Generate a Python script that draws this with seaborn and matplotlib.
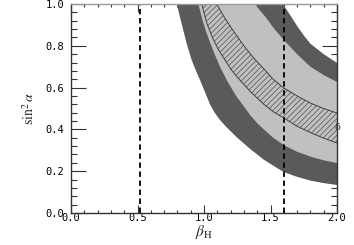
import matplotlib
matplotlib.use("Agg")
import matplotlib.pyplot as plt
import seaborn as sns
import pandas as pd
from matplotlib.ticker import MultipleLocator

# boundaries of the bands (beta_H, sin^2 alpha)
b1_x = [0.795, 0.83, 0.87, 0.907, 0.94, 0.97, 1.0, 1.045, 1.08, 1.12, 1.17,
        1.25, 1.35, 1.45, 1.55, 1.6, 1.7, 1.8, 1.9, 2.0]
b1_y = [1.0, 0.91, 0.81, 0.732, 0.68, 0.636, 0.59, 0.52, 0.48, 0.445, 0.41,
        0.36, 0.305, 0.255, 0.215, 0.196, 0.173, 0.155, 0.143, 0.134]
b2_x = [0.957, 0.99, 1.02, 1.07, 1.12, 1.18, 1.246, 1.30, 1.346, 1.40, 1.45,
        1.52, 1.6, 1.7, 1.8, 1.9, 2.0]
b2_y = [1.0, 0.92, 0.86, 0.775, 0.70, 0.625, 0.556, 0.51, 0.469, 0.43, 0.40,
        0.36, 0.325, 0.293, 0.27, 0.252, 0.239]
b3_x = [0.983, 1.02, 1.07, 1.11, 1.15, 1.2, 1.25, 1.3, 1.35, 1.4, 1.45, 1.52,
        1.6, 1.7, 1.8, 1.9, 2.0]
b3_y = [1.0, 0.91, 0.83, 0.78, 0.74, 0.69, 0.65, 0.615, 0.58, 0.55, 0.52,
        0.485, 0.455, 0.415, 0.385, 0.358, 0.335]
b4_x = [1.095, 1.15, 1.2, 1.25, 1.3, 1.375, 1.45, 1.52, 1.6, 1.7, 1.8, 1.9,
        2.0]
b4_y = [1.0, 0.94, 0.89, 0.845, 0.80, 0.74, 0.69, 0.64, 0.598, 0.56, 0.526,
        0.50, 0.478]
b5_x = [1.383, 1.42, 1.46, 1.53, 1.6, 1.7, 1.8, 1.9, 2.0]
b5_y = [1.0, 0.97, 0.94, 0.88, 0.828, 0.76, 0.70, 0.66, 0.627]
b6_x = [1.594, 1.65, 1.7, 1.75, 1.8, 1.9, 2.0]
b6_y = [1.0, 0.945, 0.895, 0.85, 0.81, 0.76, 0.718]

vlines = [0.52, 1.6]

dark = "#5a5a5a"
light = "#c0c0c0"

sns.set_theme(style="ticks")
plt.rcParams["font.family"] = ["DejaVu Sans Mono", "DejaVu Sans"]
plt.rcParams["mathtext.fontset"] = "stix"
plt.rcParams["hatch.color"] = "#505050"
plt.rcParams["hatch.linewidth"] = 0.5

fig = plt.figure(figsize=(3.54, 2.45), dpi=100)
ax = fig.add_axes([0.2006, 0.1306, 0.7514, 0.853])


def band(lx, ly, ux, uy, **kw):
    xs = list(lx) + list(ux)[::-1]
    ys = list(ly) + list(uy)[::-1]
    ax.fill(xs, ys, **kw)


band(b1_x, b1_y, b6_x, b6_y, color=dark, lw=0)
band(b2_x, b2_y, b5_x, b5_y, color=light, lw=0)
band(b3_x, b3_y, b4_x, b4_y, facecolor=light, edgecolor="#505050",
     hatch="//////", lw=0)

# outline of the hatched band
for bx, by in [(b3_x, b3_y), (b4_x, b4_y)]:
    sns.lineplot(data=pd.DataFrame({"x": bx, "y": by}), x="x", y="y",
                 ax=ax, color="#404040", lw=0.7, sort=False)

for v in vlines:
    ax.axvline(v, color="black", lw=1.3, ls=(0, (3, 2)))

ax.text(2.0, 0.41, "δ", fontsize=7, color="#303030", ha="center",
        va="center", family="DejaVu Serif", clip_on=False)

ax.set_xlim(0, 2)
ax.set_ylim(0, 1)
ax.xaxis.set_major_locator(MultipleLocator(0.5))
ax.xaxis.set_minor_locator(MultipleLocator(0.1))
ax.yaxis.set_major_locator(MultipleLocator(0.2))
ax.yaxis.set_minor_locator(MultipleLocator(0.04))
ax.xaxis.set_major_formatter(lambda v, p: f"{v:.1f}")
ax.yaxis.set_major_formatter(lambda v, p: f"{v:.1f}")
ax.tick_params(which="both", direction="in", top=True, right=True,
               colors="#333333", labelcolor="black", labelsize=7.5, width=0.8)
ax.tick_params(axis="x", which="major", length=6, pad=0)
ax.tick_params(axis="x", which="minor", length=2.5)
ax.tick_params(axis="y", which="major", length=11, pad=5)
ax.tick_params(axis="y", which="minor", length=4)
for s in ax.spines.values():
    s.set_color("#333333")
    s.set_linewidth(1.0)
ax.spines["top"].set_color("#999999")

ax.set_xlabel(r"$\beta_{\rm H}$", fontsize=11, labelpad=0)
ax.set_ylabel(r"$\sin^2\alpha$", fontsize=10, labelpad=6)

fig.savefig("out.png", dpi=100)
